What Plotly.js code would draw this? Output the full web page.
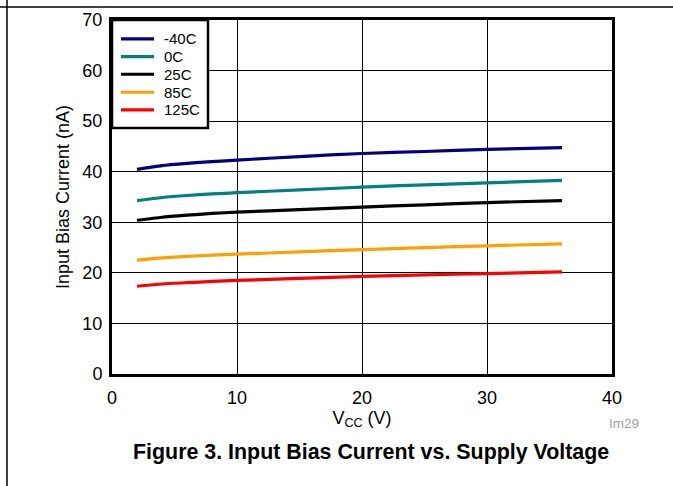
<!DOCTYPE html>
<html>
<head>
<meta charset="utf-8">
<script src="https://cdn.plot.ly/plotly-3.0.1.min.js"></script>
<style>html,body{margin:0;padding:0;background:#fff;}#chart{width:673px;height:486px;}</style>
</head>
<body>
<div id="chart"></div>
<script>
const vcc = [2, 4, 6, 8, 10, 15, 20, 25, 30, 36];
const seriesNames = ["-40C", "0C", "25C", "85C", "125C"];
const seriesColors = ["#000080", "#008080", "#000000", "#FF9F00", "#FF0000"];
const ibM40 = [40.45, 41.2, 41.65, 42.0, 42.3, 43.0, 43.6, 44.0, 44.4, 44.75];
const ib0 = [34.3, 34.9, 35.3, 35.6, 35.85, 36.4, 36.95, 37.4, 37.8, 38.3];
const ib25 = [30.4, 31.0, 31.4, 31.75, 32.0, 32.5, 33.0, 33.45, 33.9, 34.3];
const ib85 = [22.5, 22.95, 23.25, 23.5, 23.7, 24.15, 24.6, 25.0, 25.35, 25.75];
const ib125 = [17.35, 17.8, 18.05, 18.3, 18.5, 18.9, 19.3, 19.6, 19.85, 20.2];
const xTicks = [0, 10, 20, 30, 40];
const yTicks = [0, 10, 20, 30, 40, 50, 60, 70];

const allY = [ibM40, ib0, ib25, ib85, ib125];
const font = "Liberation Sans, Arial, sans-serif";

const traces = allY.map((ys, i) => ({
  x: vcc, y: ys, name: seriesNames[i], type: "scatter", mode: "lines",
  line: {color: seriesColors[i], width: 3.2, shape: "spline", smoothing: 0.6},
  showlegend: false
}));

// Hand-built legend box (paper coordinates) to match the compact row spacing
const legX0 = 0, legX1 = 0.192, legY0 = 0.695, legY1 = 1.0;
const legRows = [0.9464, 0.8964, 0.8467, 0.7959, 0.746];
const shapes = [
  {type: "line", xref: "paper", yref: "paper", x0: -0.23, x1: 1.13, y0: 1.0367, y1: 1.0367, line: {color: "#000", width: 1.5}},
  {type: "line", xref: "paper", yref: "paper", x0: -0.21, x1: -0.21, y0: 1.06, y1: -0.32, line: {color: "#000", width: 1.5}},
  {type: "rect", xref: "paper", yref: "paper", x0: legX0, x1: legX1, y0: legY0, y1: legY1,
   fillcolor: "#fff", line: {color: "#000", width: 2.5}}
];
const annotations = [
  {xref: "paper", yref: "paper", x: 1.024, y: -0.14, xanchor: "center", yanchor: "middle",
   text: "Im29", showarrow: false, font: {family: font, size: 13.5, color: "#a0a0a0"}},
  {xref: "paper", yref: "paper", x: 0.518, y: -0.22, xanchor: "center", yanchor: "middle",
   text: "<b>Figure 3. Input Bias Current vs. Supply Voltage</b>", showarrow: false,
   font: {family: font, size: 21.4, color: "#000"}}
];
seriesNames.forEach((nm, i) => {
  shapes.push({type: "line", xref: "paper", yref: "paper", x0: 0.018, x1: 0.084,
    y0: legRows[i], y1: legRows[i], line: {color: seriesColors[i], width: 3.2}});
  annotations.push({xref: "paper", yref: "paper", x: 0.1, y: legRows[i], xanchor: "left", yanchor: "middle",
    text: nm, showarrow: false, font: {family: font, size: 15, color: "#000"}});
});

const layout = {
  width: 673, height: 486,
  margin: {l: 112, r: 61, t: 20, b: 112, pad: 0},
  paper_bgcolor: "#fff", plot_bgcolor: "#fff",
  font: {family: font, size: 18, color: "#000"},
  showlegend: false,
  xaxis: {
    range: [0, 40], tickvals: xTicks, ticktext: xTicks.map(String),
    showgrid: true, gridcolor: "#000", gridwidth: 1,
    showline: true, linecolor: "#000", linewidth: 3, mirror: true,
    ticks: "outside", ticklen: 5, tickcolor: "rgba(0,0,0,0)",
    zeroline: false, fixedrange: true,
    tickfont: {family: font, size: 18},
    title: {text: "V<sub>CC</sub> (V)", font: {family: font, size: 18}, standoff: 1}
  },
  yaxis: {
    range: [0, 70], tickvals: yTicks, ticktext: yTicks.map(String),
    showgrid: true, gridcolor: "#000", gridwidth: 1,
    showline: true, linecolor: "#000", linewidth: 3, mirror: true,
    ticks: "outside", ticklen: 3, tickcolor: "rgba(0,0,0,0)",
    zeroline: false, fixedrange: true,
    tickfont: {family: font, size: 18},
    title: {text: "Input Bias Current (nA)", font: {family: font, size: 18}, standoff: 9}
  },
  shapes: shapes,
  annotations: annotations
};

Plotly.newPlot("chart", traces, layout, {displayModeBar: false, staticPlot: true});
</script>
</body>
</html>
